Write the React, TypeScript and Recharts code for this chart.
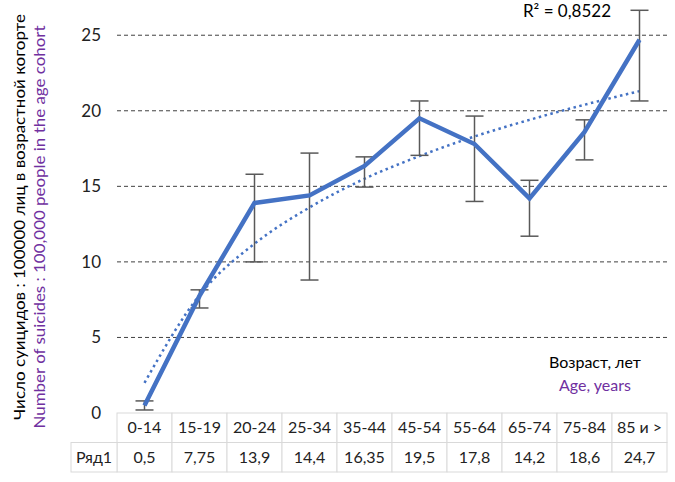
import { LineChart, Line, XAxis, YAxis, ErrorBar, ReferenceLine } from "recharts";

const ageGroups = ["0-14", "15-19", "20-24", "25-34", "35-44", "45-54", "55-64", "65-74", "75-84", "85 и >"];
const rates = [0.5, 7.75, 13.9, 14.4, 16.35, 19.5, 17.8, 14.2, 18.6, 24.7];
// error bars as [below, above]
const errBelow = [0.3, 0.8, 3.9, 5.6, 1.4, 2.45, 3.8, 2.5, 1.85, 4.05];
const errAbove = [0.3, 0.4, 1.9, 2.8, 0.6, 1.15, 1.85, 1.2, 0.8, 1.95];
// dotted log trend line, read at each category
const trendValues = [2.0, 7.8, 11.2, 13.6, 15.5, 17.0, 18.3, 19.4, 20.4, 21.3];
const yTicks = [0, 5, 10, 15, 20, 25];
const seriesName = "Ряд1";
const r2Label = "R² = 0,8522";

const data = ageGroups.map((age, i) => ({
  age,
  value: rates[i],
  err: [errBelow[i], errAbove[i]],
  trend: trendValues[i],
}));

const W = 675;
const H = 482;
const plotLeft = 117;
const plotRight = 667;
const plotTop = 5;
const plotBottom = 413;
const colW = (plotRight - plotLeft) / ageGroups.length;
const rowH = 29.5;
const font = "Lato, 'Noto Sans', sans-serif";
const blue = "#4472C4";
const purple = "#7030A0";
const border = "#d9d9d9";
const textColor = "#222";

const fmt = (v: number) => String(v).replace(".", ",");

function TableTick(props: any) {
  const { x, y, payload, index } = props;
  const left = x - colW / 2;
  return (
    <g>
      <rect x={left} y={y} width={colW} height={rowH} fill="#fff" stroke={border} />
      <rect x={left} y={y + rowH} width={colW} height={rowH} fill="#fff" stroke={border} />
      <text x={x} y={y + rowH / 2} dy="0.35em" textAnchor="middle" fontSize={16} fill={textColor} fontFamily={font}>
        {payload.value}
      </text>
      <text x={x} y={y + rowH * 1.5} dy="0.35em" textAnchor="middle" fontSize={16} fill={textColor} fontFamily={font}>
        {fmt(rates[index])}
      </text>
      {index === 0 && (
        <g>
          <rect x={left - 46} y={y + rowH} width={46} height={rowH} fill="#fff" stroke={border} />
          <text x={left - 23} y={y + rowH * 1.5} dy="0.35em" textAnchor="middle" fontSize={16} fill={textColor} fontFamily={font}>
            {seriesName}
          </text>
        </g>
      )}
    </g>
  );
}

export default function App() {
  return (
    <div style={{ position: "absolute", left: 0, top: 0, width: W, height: H, background: "#fff" }}>
      <LineChart
        width={W}
        height={H}
        data={data}
        margin={{ top: plotTop, right: W - plotRight, bottom: 0, left: 0 }}
      >
        {yTicks
          .filter((t) => t > 0)
          .map((t) => (
            <ReferenceLine key={t} y={t} stroke="#404040" strokeDasharray="4 3" />
          ))}
        <XAxis
          dataKey="age"
          scale="band"
          interval={0}
          height={H - plotBottom}
          axisLine={false}
          tickLine={false}
          tickSize={0}
          tickMargin={0}
          tick={<TableTick />}
        />
        <YAxis
          type="number"
          domain={[0, 27]}
          ticks={yTicks}
          width={plotLeft}
          axisLine={false}
          tickLine={false}
          tickSize={0}
          tickMargin={16}
          tick={{ fontSize: 17, fill: textColor, fontFamily: font }}
        />
        <Line
          dataKey="trend"
          type="monotone"
          stroke={blue}
          strokeWidth={2.5}
          strokeDasharray="2.5 3.5"
          dot={false}
          isAnimationActive={false}
        />
        <Line
          dataKey="value"
          type="linear"
          stroke={blue}
          strokeWidth={4.5}
          dot={false}
          isAnimationActive={false}
        >
          <ErrorBar dataKey="err" direction="y" width={9} stroke="#595959" strokeWidth={1.5} isAnimationActive={false} />
        </Line>
      </LineChart>
      <svg width={W} height={H} style={{ position: "absolute", left: 0, top: 0, pointerEvents: "none" }}>
        <g fontFamily={font} fontSize={16}>
          <text x={0} y={0} transform="translate(19 217) rotate(-90)" textAnchor="middle" dy="0.35em" fill="#000" textLength={406} lengthAdjust="spacingAndGlyphs">
            Число суицидов : 100000 лиц в возрастной когорте
          </text>
          <text x={0} y={0} transform="translate(39 227) rotate(-90)" textAnchor="middle" dy="0.35em" fill={purple} textLength={403} lengthAdjust="spacingAndGlyphs">
            Number of suicides : 100,000 people in the age cohort
          </text>
          <text x={595} y={362} textAnchor="middle" dy="0.35em" fill="#000">
            Возраст, лет
          </text>
          <text x={595} y={385} textAnchor="middle" dy="0.35em" fill={purple}>
            Age, years
          </text>
          <text x={567} y={11} textAnchor="middle" dy="0.35em" fontSize={17} fill="#000">
            {r2Label}
          </text>
        </g>
      </svg>
    </div>
  );
}
